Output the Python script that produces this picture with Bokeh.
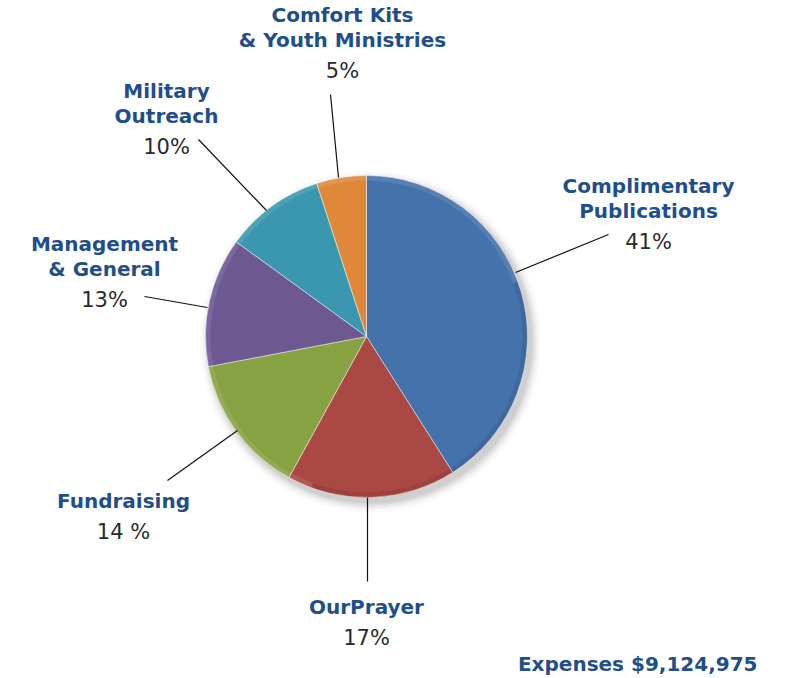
import numpy as np
from bokeh.plotting import figure
from bokeh.models import Range1d, ColumnDataSource
from bokeh.core.properties import value
from bokeh.embed import file_html
from bokeh.resources import INLINE

# ---- data ----
categories = ["Complimentary\nPublications", "OurPrayer", "Fundraising",
              "Management\n& General", "Military\nOutreach", "Comfort Kits\n& Youth Ministries"]
shares = [41, 17, 14, 13, 10, 5]
pct_labels = ["41%", "17%", "14 %", "13%", "10%", "5%"]
colors = ["#4472AA", "#AA4843", "#87A241", "#6D5892", "#3A97AF", "#E0883A"]
total_label = "Expenses $9,124,975"

W, H = 798, 678
def Y(ypix):
    return H - ypix

p = figure(width=W, height=H, output_backend="svg", toolbar_location=None,
           x_range=Range1d(0, W), y_range=Range1d(0, H), min_border=0)
p.axis.visible = False
p.grid.visible = False
p.outline_line_color = None
p.background_fill_color = "white"

cx, cy, R = 366, Y(336), 161

# soft shadow
for k, a in [(10, 0.02), (7, 0.03), (5, 0.04), (3, 0.05), (1, 0.06)]:
    p.circle(x=[cx + 4], y=[cy - 5], radius=R + k, fill_color="#000000",
             fill_alpha=a, line_color=None)

vals = np.array(shares, dtype=float)
cum = np.concatenate([[0], np.cumsum(vals)]) / vals.sum()
starts = np.pi / 2 - 2 * np.pi * cum[:-1]
ends = np.pi / 2 - 2 * np.pi * cum[1:]
src = ColumnDataSource(dict(start=starts, end=ends, color=colors))
p.wedge(x=cx, y=cy, radius=R, start_angle="start", end_angle="end",
        direction="clock", fill_color="color", line_color="white",
        line_width=0.8, line_alpha=0.6, source=src)

# bevel: light rim on top-left, dark rim on bottom-right
p.annular_wedge(x=cx, y=cy, inner_radius=R - 5, outer_radius=R, start_angle=np.radians(20),
                end_angle=np.radians(250), fill_color="white", fill_alpha=0.10, line_color=None)
p.annular_wedge(x=cx, y=cy, inner_radius=R - 5, outer_radius=R, start_angle=np.radians(-110),
                end_angle=np.radians(20), fill_color="black", fill_alpha=0.07, line_color=None)

# leader lines (layout)
leaders = [((515, 272), (608, 234)),
           ((367, 497), (367, 581)),
           ((237, 430), (167, 480)),
           ((207, 307), (144, 296)),
           ((266, 210), (198, 139)),
           ((338, 177), (330, 94))]
p.segment(x0=[a[0] for a, b in leaders], y0=[Y(a[1]) for a, b in leaders],
          x1=[b[0] for a, b in leaders], y1=[Y(b[1]) for a, b in leaders],
          line_color="#111111", line_width=1.2)

# label layout: (center x, y of first title line, y of percentage)
label_pos = [(648, 185, 241), (366, 606, 637), (123, 500, 531),
             (104, 243, 299), (166, 90, 146), (342, 14, 70)]
line_gap = 25
tx, ty, tt = [], [], []
px, py = [], []
for cat, pct, (x, y1, yp) in zip(categories, pct_labels, label_pos):
    for i, line in enumerate(cat.split("\n")):
        tx.append(x); ty.append(Y(y1 + i * line_gap)); tt.append(line)
    px.append(x); py.append(Y(yp))

p.text(x=tx, y=ty, text=tt, text_align="center", text_baseline="middle",
       text_font=value("DejaVu Sans"), text_font_style="bold",
       text_font_size="20px", text_color="#1F4E8C")
p.text(x=px, y=py, text=pct_labels, text_align="center", text_baseline="middle",
       text_font=value("DejaVu Sans"), text_font_size="21px", text_color="#2a2a2a")
p.text(x=[757], y=[Y(663)], text=[total_label], text_align="right", text_baseline="middle",
       text_font=value("DejaVu Sans"), text_font_style="bold",
       text_font_size="20px", text_color="#1F4E8C")

open("out.html", "w").write(file_html(p, INLINE))
